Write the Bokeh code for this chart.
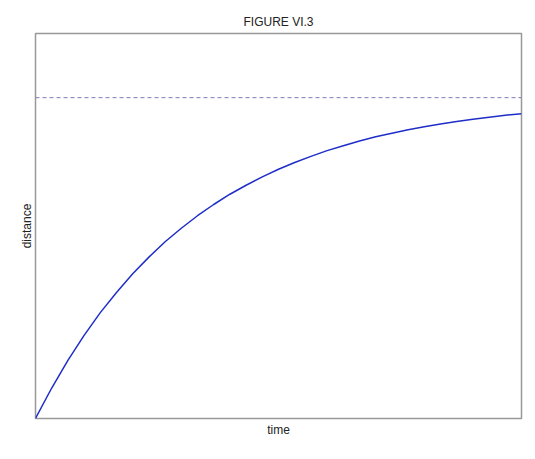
from bokeh.plotting import figure
from bokeh.models import Range1d, Span, FixedTicker
from bokeh.embed import file_html
from bokeh.resources import INLINE

# values
time = [0.0, 0.1, 0.2, 0.3, 0.4, 0.5, 0.6, 0.7, 0.8, 0.9, 1.0,
        1.1, 1.2, 1.3, 1.4, 1.5, 1.6, 1.7, 1.8, 1.9, 2.0,
        2.1, 2.2, 2.3, 2.4, 2.5, 2.6, 2.7, 2.8, 2.9, 3.0]
distance = [0.000, 0.095, 0.181, 0.259, 0.330, 0.393, 0.451, 0.503, 0.551, 0.593, 0.632,
            0.667, 0.699, 0.727, 0.753, 0.777, 0.798, 0.817, 0.835, 0.850, 0.865,
            0.878, 0.889, 0.900, 0.909, 0.918, 0.926, 0.933, 0.939, 0.945, 0.950]
asymptote = 1.0

p = figure(width=527, height=451, output_backend="svg", toolbar_location=None,
           x_range=Range1d(0, 3), y_range=Range1d(0, 1.2),
           title="FIGURE VI.3",
           min_border_left=35, min_border_right=6, min_border_top=33, min_border_bottom=33)

p.title.align = "center"
p.title.text_font = "Liberation Sans"
p.title.text_font_size = "12px"
p.title.text_font_style = "normal"
p.title.text_color = "#222222"

p.outline_line_color = "#999999"
p.outline_line_width = 1.5
p.grid.visible = False
p.background_fill_color = "white"
p.border_fill_color = "white"

for ax in (p.xaxis, p.yaxis):
    ax.ticker = FixedTicker(ticks=[])
    ax.axis_line_color = None
    ax.major_tick_line_color = None
    ax.minor_tick_line_color = None
    ax.major_label_text_font_size = "0px"
    ax.axis_label_text_font = "Liberation Sans"
    ax.axis_label_text_font_size = "12px"
    ax.axis_label_text_font_style = "normal"
    ax.axis_label_text_color = "#222222"

p.xaxis.axis_label_standoff = 4
p.yaxis.axis_label_standoff = 2
p.xaxis.axis_label = "time"
p.yaxis.axis_label = "distance"

p.add_layout(Span(location=asymptote, dimension="width", line_color="#7c7cbc",
                  line_dash="4 3", line_width=1))
p.line(time, distance, line_color="#1f2ec8", line_width=1.5)

open("out.html", "w").write(file_html(p, INLINE))
